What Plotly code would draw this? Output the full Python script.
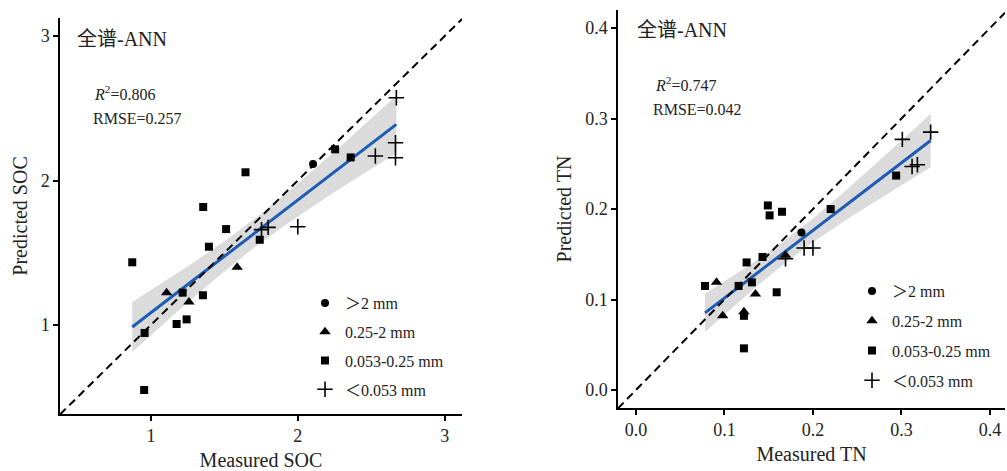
import numpy as np
import plotly.graph_objects as go

# ---------------- data: SOC panel ----------------
soc_circle_x = [2.104]
soc_circle_y = [2.114]
soc_tri_x = [1.587, 1.107, 1.259]
soc_tri_y = [1.400, 1.224, 1.159]
soc_sq_x = [2.254, 2.360, 1.644, 1.356, 1.512, 1.741, 1.395, 0.873, 1.216, 1.354, 1.175, 1.243, 0.957, 0.954]
soc_sq_y = [2.216, 2.160, 2.057, 1.817, 1.664, 1.590, 1.542, 1.434, 1.224, 1.206, 1.007, 1.039, 0.945, 0.550]
soc_cross_x = [2.671, 2.665, 2.665, 2.528, 2.000, 1.798, 1.753]
soc_cross_y = [2.573, 2.262, 2.158, 2.170, 1.680, 1.676, 1.660]

# ---------------- data: TN panel ----------------
tn_circle_x = [0.187]
tn_circle_y = [0.174]
tn_tri_x = [0.169, 0.091, 0.135, 0.098, 0.122]
tn_tri_y = [0.149, 0.119, 0.106, 0.082, 0.0865]
tn_sq_x = [0.294, 0.220, 0.149, 0.151, 0.165, 0.143, 0.125, 0.078, 0.116, 0.131, 0.159, 0.122, 0.122]
tn_sq_y = [0.237, 0.200, 0.204, 0.193, 0.197, 0.147, 0.141, 0.115, 0.115, 0.119, 0.108, 0.082, 0.046]
tn_cross_x = [0.333, 0.301, 0.312, 0.318, 0.190, 0.200, 0.169]
tn_cross_y = [0.285, 0.277, 0.247, 0.249, 0.157, 0.157, 0.145]

legend_names = ["\uff1e2 mm", "0.25-2 mm", "0.053-0.25 mm", "\uff1c0.053 mm"]
soc_ticks = [1, 2, 3]
tn_ticks = [0.0, 0.1, 0.2, 0.3, 0.4]
soc_range = [0.381, 3.118]
soc_yrange = [0.384, 3.125]
tn_range = [-0.0203, 0.417]
tn_yrange = [-0.0199, 0.42]
title_text = "全谱-ANN"
soc_stats = ["<i>R</i><sup>2</sup>=0.806", "RMSE=0.257"]
tn_stats = ["<i>R</i><sup>2</sup>=0.747", "RMSE=0.042"]

W, H = 1007, 471
FONT = "Liberation Serif, Times New Roman, Noto Sans CJK SC, serif"
BLUE = "#1d5cb4"


def px(x):
    return x / W


def py(y):
    return 1 - y / H


def fit_band(xs, ys, n=80):
    x = np.array(xs, float)
    y = np.array(ys, float)
    b, a = np.polyfit(x, y, 1)
    nn = len(x)
    res = y - (a + b * x)
    s = np.sqrt(np.sum(res ** 2) / (nn - 2))
    sxx = np.sum((x - x.mean()) ** 2)
    t = 2.07
    xg = np.linspace(x.min(), x.max(), n)
    yg = a + b * xg
    se = s * np.sqrt(1 / nn + (xg - x.mean()) ** 2 / sxx)
    return xg, yg, yg - t * se, yg + t * se


fig = go.Figure()

panels = [
    dict(xa="x", ya="y", leg="legend",
         groups=[(soc_circle_x, soc_circle_y), (soc_tri_x, soc_tri_y),
                 (soc_sq_x, soc_sq_y), (soc_cross_x, soc_cross_y)],
         rng=soc_range),
    dict(xa="x2", ya="y2", leg="legend2",
         groups=[(tn_circle_x, tn_circle_y), (tn_tri_x, tn_tri_y),
                 (tn_sq_x, tn_sq_y), (tn_cross_x, tn_cross_y)],
         rng=tn_range),
]

symbols = [
    dict(symbol="circle", size=8, color="black"),
    dict(symbol="triangle-up", size=10, color="black"),
    dict(symbol="square", size=8, color="black"),
    dict(symbol="cross-thin-open", size=11, color="black", line=dict(color="black", width=1.6)),
]

for p in panels:
    allx = sum([g[0] for g in p["groups"]], [])
    ally = sum([g[1] for g in p["groups"]], [])
    xg, yg, lo, hi = fit_band(allx, ally)
    fig.add_trace(go.Scatter(x=np.concatenate([xg, xg[::-1]]), y=np.concatenate([hi, lo[::-1]]),
                             fill="toself", fillcolor="rgba(160,160,160,0.38)", line=dict(width=0),
                             mode="lines", showlegend=False, hoverinfo="skip",
                             xaxis=p["xa"], yaxis=p["ya"]))
    fig.add_trace(go.Scatter(x=xg, y=yg, mode="lines", line=dict(color=BLUE, width=3),
                             showlegend=False, xaxis=p["xa"], yaxis=p["ya"]))
    r = p["rng"]
    fig.add_trace(go.Scatter(x=r, y=r, mode="lines", line=dict(color="black", width=2, dash="8px,5px"),
                             showlegend=False, xaxis=p["xa"], yaxis=p["ya"]))
    for i, (gx, gy) in enumerate(p["groups"]):
        fig.add_trace(go.Scatter(x=gx, y=gy, mode="markers", marker=symbols[i], name=legend_names[i],
                                 legendgroup=p["leg"] + str(i), legend=p["leg"],
                                 xaxis=p["xa"], yaxis=p["ya"]))

axis_common = dict(showline=True, linecolor="black", linewidth=1.5, ticks="outside", ticklen=5,
                   tickwidth=1.5, tickcolor="black", showgrid=False, zeroline=False,
                   tickfont=dict(family=FONT, size=18, color="#222"),
                   title_font=dict(family=FONT, size=20, color="#222"), mirror=False)

fig.update_layout(
    width=W, height=H, margin=dict(l=0, r=0, t=0, b=0),
    paper_bgcolor="white", plot_bgcolor="white",
    xaxis=dict(domain=[px(60), px(462)], range=soc_range, tickvals=soc_ticks, anchor="y",
               title=dict(text="Measured SOC", standoff=8), **axis_common),
    yaxis=dict(domain=[py(414), py(18)], range=soc_yrange, tickvals=soc_ticks, anchor="x",
               title=dict(text="Predicted SOC", standoff=8), **axis_common),
    xaxis2=dict(domain=[px(618), px(1005)], range=tn_range, tickvals=tn_ticks, ticktext=[f"{v:.1f}" for v in tn_ticks],
                anchor="y2", title=dict(text="Measured TN", standoff=8), **axis_common),
    yaxis2=dict(domain=[py(408), py(10)], range=tn_yrange, tickvals=tn_ticks, ticktext=[f"{v:.1f}" for v in tn_ticks],
                anchor="x2", title=dict(text="Predicted TN", standoff=8), **axis_common),
    legend=dict(x=px(305), y=py(286), xanchor="left", yanchor="top", traceorder="grouped",
                tracegroupgap=5, bgcolor="rgba(0,0,0,0)", itemsizing="trace",
                font=dict(family=FONT, size=16, color="#222")),
    legend2=dict(x=px(852), y=py(274), xanchor="left", yanchor="top", traceorder="grouped",
                 tracegroupgap=6, bgcolor="rgba(0,0,0,0)", itemsizing="trace",
                 font=dict(family=FONT, size=16, color="#222")),
)

annots = [
    (75, 39, title_text, 20),
    (92, 93, soc_stats[0], 16),
    (91, 119, soc_stats[1], 16),
    (635, 30, title_text, 20),
    (653, 84, tn_stats[0], 16),
    (651, 110, tn_stats[1], 16),
]
for ax_, ay_, t, s in annots:
    fig.add_annotation(x=px(ax_), y=py(ay_), xref="paper", yref="paper", text=t, showarrow=False,
                       xanchor="left", yanchor="middle", font=dict(family=FONT, size=s, color="#222"))

fig.write_html("out.html", config={"displayModeBar": False},
               post_script="document.body.style.margin='0';document.body.style.padding='0';")
